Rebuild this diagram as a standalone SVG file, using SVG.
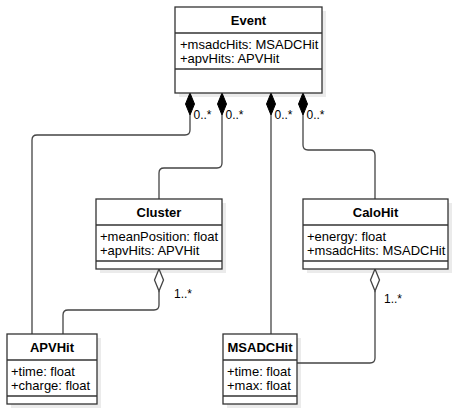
<svg xmlns="http://www.w3.org/2000/svg" width="452" height="413" viewBox="0 0 452 413">
<style>
.box{fill:#fff;stroke:#333;stroke-width:1.3}
.shadow{fill:#ebebeb}
.div{stroke:#333;stroke-width:1.3}
.title{font-family:"Liberation Sans",Arial,sans-serif;font-size:13px;font-weight:bold;text-anchor:middle;fill:#000}
.attr{font-family:"Liberation Sans",Arial,sans-serif;font-size:13px;fill:#000}
.lbl{font-family:"Liberation Sans",Arial,sans-serif;font-size:12px;fill:#000}
.conn{fill:none;stroke:#444;stroke-width:1.3}
.comp{fill:#000;stroke:#000;stroke-width:1}
.aggr{fill:#fff;stroke:#444;stroke-width:1.3}
</style>
<rect width="452" height="413" fill="#fff"/>
<g id="shadows">
<rect class="shadow" x="179" y="11" width="147" height="86"/>
<rect class="shadow" x="100" y="203" width="126" height="70"/>
<rect class="shadow" x="307" y="203" width="145" height="70"/>
<rect class="shadow" x="11" y="338" width="90" height="70"/>
<rect class="shadow" x="227" y="338" width="74" height="70"/>
</g>
<g id="connectors">
<path class="conn" d="M190,115 V130 Q190,135 185,135 H37 Q32,135 32,140 V334"/>
<path class="conn" d="M222,115 V163 Q222,168 217,168 H164 Q159,168 159,173 V199"/>
<path class="conn" d="M271,115 V334"/>
<path class="conn" d="M303,115 V145 Q303,150 308,150 H370 Q375,150 375,155 V199"/>
<path class="conn" d="M159,291 V305 Q159,310 154,310 H68 Q63,310 63,315 V334"/>
<path class="conn" d="M375,291 V358 Q375,363 370,363 H297"/>
<path class="comp" d="M190,93 L194.5,104 L190,115 L185.5,104 Z"/>
<path class="comp" d="M222,93 L226.5,104 L222,115 L217.5,104 Z"/>
<path class="comp" d="M271,93 L275.5,104 L271,115 L266.5,104 Z"/>
<path class="comp" d="M303,93 L307.5,104 L303,115 L298.5,104 Z"/>
<path class="aggr" d="M159,269 L163.5,280 L159,291 L154.5,280 Z"/>
<path class="aggr" d="M375,269 L379.5,280 L375,291 L370.5,280 Z"/>
<text class="lbl" x="193.5" y="118.5">0..*</text>
<text class="lbl" x="225.5" y="118.5">0..*</text>
<text class="lbl" x="274.5" y="118.5">0..*</text>
<text class="lbl" x="306.5" y="118.5">0..*</text>
<text class="lbl" x="174" y="297.5">1..*</text>
<text class="lbl" x="384" y="302.5">1..*</text>
</g>
<g id="Event">
<rect class="box" x="175" y="7" width="147" height="86"/>
<line class="div" x1="175" y1="33" x2="322" y2="33"/>
<line class="div" x1="175" y1="69" x2="322" y2="69"/>
<text class="title" x="248.5" y="24.5">Event</text>
<text class="attr" x="180" y="48.5">+msadcHits: MSADCHit</text>
<text class="attr" x="180" y="63">+apvHits: APVHit</text>
</g>
<g id="Cluster">
<rect class="box" x="96" y="199" width="126" height="70"/>
<line class="div" x1="96" y1="225" x2="222" y2="225"/>
<line class="div" x1="96" y1="261" x2="222" y2="261"/>
<text class="title" x="159" y="216.5">Cluster</text>
<text class="attr" x="100" y="240.5">+meanPosition: float</text>
<text class="attr" x="100" y="255">+apvHits: APVHit</text>
</g>
<g id="CaloHit">
<rect class="box" x="303" y="199" width="145" height="70"/>
<line class="div" x1="303" y1="225" x2="448" y2="225"/>
<line class="div" x1="303" y1="261" x2="448" y2="261"/>
<text class="title" x="375.5" y="216.5">CaloHit</text>
<text class="attr" x="307" y="240.5">+energy: float</text>
<text class="attr" x="307" y="255">+msadcHits: MSADCHit</text>
</g>
<g id="APVHit">
<rect class="box" x="7" y="334" width="90" height="70"/>
<line class="div" x1="7" y1="360" x2="97" y2="360"/>
<line class="div" x1="7" y1="396" x2="97" y2="396"/>
<text class="title" x="52" y="351.5">APVHit</text>
<text class="attr" x="11" y="375.5">+time: float</text>
<text class="attr" x="11" y="390">+charge: float</text>
</g>
<g id="MSADCHit">
<rect class="box" x="223" y="334" width="74" height="70"/>
<line class="div" x1="223" y1="360" x2="297" y2="360"/>
<line class="div" x1="223" y1="396" x2="297" y2="396"/>
<text class="title" x="260" y="351.5">MSADCHit</text>
<text class="attr" x="227" y="375.5">+time: float</text>
<text class="attr" x="227" y="390">+max: float</text>
</g>
</svg>
